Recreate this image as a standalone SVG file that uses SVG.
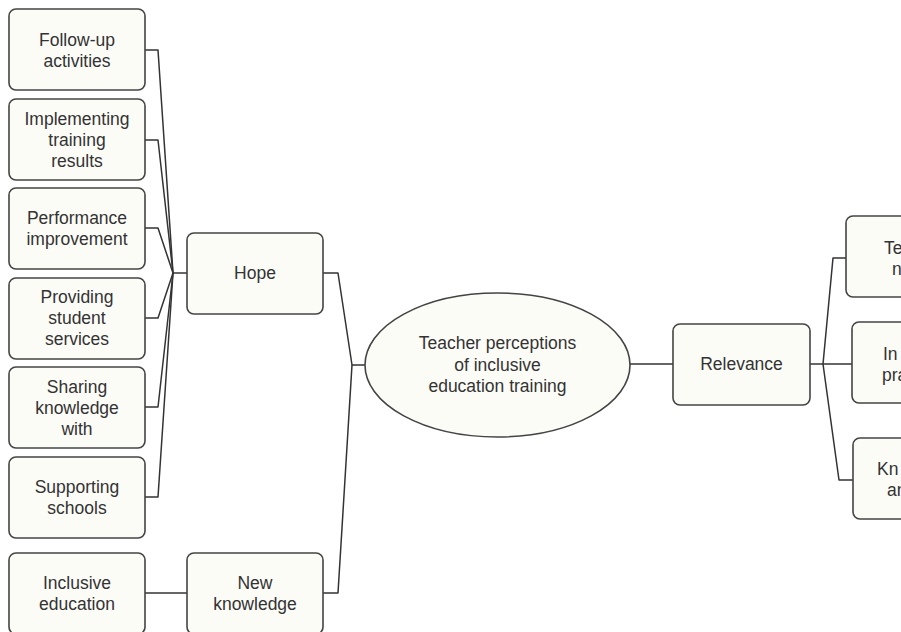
<svg xmlns="http://www.w3.org/2000/svg" width="901" height="632" viewBox="0 0 901 632">
<style>
.box{fill:#fcfcf7;stroke:#444;stroke-width:1.6}
.ell{fill:#fcfcf7;stroke:#444;stroke-width:1.6}
.c{fill:none;stroke:#333;stroke-width:1.5;stroke-linejoin:round}
text{font-family:"Liberation Sans",Arial,Helvetica,sans-serif;font-size:17.5px;fill:#333;text-anchor:middle}
.s{text-anchor:start}
</style>
<rect width="901" height="632" fill="#ffffff"/>
<g id="connectors">
<polyline class="c" points="145,50 158,50 173,273"/>
<polyline class="c" points="145,140 158,140 173,273"/>
<polyline class="c" points="145,228 158,228 173,273"/>
<polyline class="c" points="145,318 158,318 173,273"/>
<polyline class="c" points="145,407 158,407 173,273"/>
<polyline class="c" points="145,497 158,497 173,273"/>
<line class="c" x1="173" y1="273" x2="187" y2="273"/>
<line class="c" x1="145" y1="593" x2="187" y2="593"/>
<polyline class="c" points="323,273 338,273 352,365 365,365"/>
<polyline class="c" points="323,593 338,593 352,365"/>
<line class="c" x1="630" y1="364" x2="673" y2="364"/>
<line class="c" x1="810" y1="364" x2="823" y2="364"/>
<polyline class="c" points="823,364 833,258 846,258"/>
<line class="c" x1="823" y1="364" x2="852" y2="364"/>
<polyline class="c" points="823,364 839,480 853,480"/>
</g>
<g id="n-followup"><rect class="box" x="9" y="9" width="136" height="81" rx="7"/><text x="77" y="46">Follow-up</text><text x="77" y="67">activities</text></g>
<g id="n-implementing"><rect class="box" x="9" y="99" width="136" height="81" rx="7"/><text x="77" y="125">Implementing</text><text x="77" y="146">training</text><text x="77" y="167">results</text></g>
<g id="n-performance"><rect class="box" x="9" y="188" width="136" height="81" rx="7"/><text x="77" y="224">Performance</text><text x="77" y="245">improvement</text></g>
<g id="n-providing"><rect class="box" x="9" y="278" width="136" height="81" rx="7"/><text x="77" y="303">Providing</text><text x="77" y="324">student</text><text x="77" y="345">services</text></g>
<g id="n-sharing"><rect class="box" x="9" y="367" width="136" height="81" rx="7"/><text x="77" y="393">Sharing</text><text x="77" y="414">knowledge</text><text x="77" y="435">with</text></g>
<g id="n-supporting"><rect class="box" x="9" y="457" width="136" height="81" rx="7"/><text x="77" y="493">Supporting</text><text x="77" y="514">schools</text></g>
<g id="n-inclusive"><rect class="box" x="9" y="553" width="136" height="81" rx="7"/><text x="77" y="589">Inclusive</text><text x="77" y="610">education</text></g>
<g id="n-hope"><rect class="box" x="187" y="233" width="136" height="81" rx="7"/><text x="255" y="279">Hope</text></g>
<g id="n-newknowledge"><rect class="box" x="187" y="553" width="136" height="81" rx="7"/><text x="255" y="589">New</text><text x="255" y="610">knowledge</text></g>
<g id="n-center"><ellipse class="ell" cx="497.5" cy="365" rx="132.5" ry="72"/><text x="497.5" y="349">Teacher perceptions</text><text x="497.5" y="370.5">of inclusive</text><text x="497.5" y="392">education training</text></g>
<g id="n-relevance"><rect class="box" x="673" y="324" width="137" height="81" rx="7"/><text x="741.5" y="370">Relevance</text></g>
<g id="n-r1"><rect class="box" x="846" y="216" width="136" height="81" rx="7"/><text class="s" x="884" y="254">Te</text><text class="s" x="892" y="275">n</text></g>
<g id="n-r2"><rect class="box" x="852" y="322" width="136" height="81" rx="7"/><text class="s" x="883" y="360">In</text><text class="s" x="882" y="381">pra</text></g>
<g id="n-r3"><rect class="box" x="853" y="438" width="136" height="81" rx="7"/><text class="s" x="877" y="475">Kn</text><text class="s" x="887" y="496">an</text></g>
</svg>
